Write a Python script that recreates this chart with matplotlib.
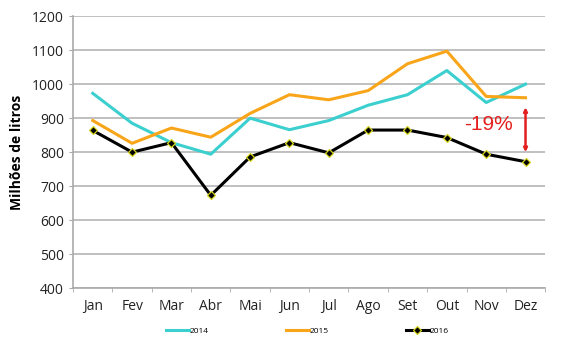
import matplotlib.pyplot as plt

meses = ["Jan", "Fev", "Mar", "Abr", "Mai", "Jun", "Jul", "Ago", "Set", "Out", "Nov", "Dez"]
v2014 = [973, 885, 828, 794, 900, 866, 893, 938, 969, 1040, 946, 1000]
v2015 = [893, 826, 871, 844, 914, 969, 954, 981, 1060, 1097, 964, 960]
v2016 = [864, 800, 828, 673, 786, 828, 798, 865, 865, 843, 794, 772]

plt.rcParams['font.family'] = ['Open Sans', 'DejaVu Sans']

fig = plt.figure(figsize=(5.8, 3.51), dpi=100)
ax = fig.add_axes([0.126, 0.179, 0.814, 0.775])

x = list(range(len(meses)))
ax.plot(x, v2014, color="#3ccfcf", lw=2.2, label="2014")
ax.plot(x, v2015, color="#f9a51a", lw=2.2, label="2015")
ax.plot(x, v2016, color="black", lw=2.2, marker="D", ms=4.5,
        mfc="black", mec="#d8d820", mew=0.9, label="2016")

ax.set_ylim(400, 1200)
ax.set_xlim(-0.5, 11.5)
ax.set_yticks(range(400, 1201, 100))
ax.set_xticks(x)
ax.set_xticklabels(meses)
ax.set_xticks([i - 0.5 for i in range(13)], minor=True)
ax.tick_params(axis="x", which="major", length=0, pad=8, labelsize=10, colors="#222222")
ax.tick_params(axis="x", which="minor", length=3, color="#aaaaaa")
ax.tick_params(axis="y", length=3, color="#aaaaaa", labelsize=10, labelcolor="#222222")
ax.grid(axis="y", color="#c0c0c0", lw=1.4)
ax.set_axisbelow(True)
for s in ["top", "right"]:
    ax.spines[s].set_visible(False)
for s in ["left", "bottom"]:
    ax.spines[s].set_color("#aaaaaa")
    ax.spines[s].set_linewidth(1.2)

ax.set_ylabel("Milhões de litros", fontsize=10, fontweight="bold", labelpad=6)

# seta de queda (Dez 2016 vs 2015)
ax.annotate("", xy=(11, 800), xytext=(11, 932),
            arrowprops=dict(arrowstyle="<|-|>", color="#e41f1f", lw=1.8,
                            mutation_scale=5, shrinkA=0, shrinkB=0))
ax.text(10.05, 880, "-19%", color="#e41f1f", fontsize=15, ha="center", va="center",
        family=["Liberation Sans", "DejaVu Sans"])

fig.legend(loc="lower center", bbox_to_anchor=(0.53, 0.025), ncol=3, frameon=False,
           fontsize=6, handlelength=2.7, columnspacing=9.3, handletextpad=0.1)

fig.savefig("out.png", dpi=100)
